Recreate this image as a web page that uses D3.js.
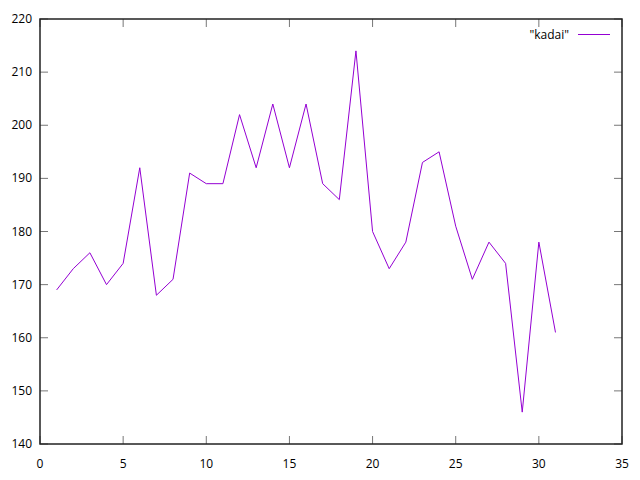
<!DOCTYPE html>
<html>
<head>
<meta charset="utf-8">
<script src="https://cdn.jsdelivr.net/npm/d3@7"></script>
<style>
  body { margin: 0; background: #fff; }
  text { font-family: "Open Sans", "Noto Sans", sans-serif; font-size: 12px; fill: #000; }
</style>
</head>
<body>
<script>
// Data.
var days = [1, 2, 3, 4, 5, 6, 7, 8, 9, 10, 11, 12, 13, 14, 15, 16, 17, 18, 19, 20, 21, 22, 23, 24, 25, 26, 27, 28, 29, 30, 31];
var kadai = [169, 173, 176, 170, 174, 192, 168, 171, 191, 189, 189, 202, 192, 204, 192, 204, 189, 186, 214, 180, 173, 178, 193, 195, 181, 171, 178, 174, 146, 178, 161];
var xTicks = [0, 5, 10, 15, 20, 25, 30, 35];
var yTicks = [140, 150, 160, 170, 180, 190, 200, 210, 220];
var seriesName = '"kadai"';

var width = 640, height = 480;
var plotLeft = 40, plotRight = 622, plotTop = 19, plotBottom = 444;

var svg = d3.select("body").append("svg")
    .attr("width", width)
    .attr("height", height);

var x = d3.scaleLinear().domain([0, 35]).range([plotLeft, plotRight]);
var y = d3.scaleLinear().domain([140, 220]).range([plotBottom, plotTop]);

// Tick marks (inward, mirrored on all sides).
var ticks = svg.append("g").attr("stroke", "#777").attr("stroke-width", 1);
xTicks.forEach(function(t) {
    ticks.append("line").attr("x1", x(t)).attr("x2", x(t)).attr("y1", plotBottom).attr("y2", plotBottom - 8);
    ticks.append("line").attr("x1", x(t)).attr("x2", x(t)).attr("y1", plotTop).attr("y2", plotTop + 8);
});
yTicks.forEach(function(t) {
    ticks.append("line").attr("x1", plotLeft).attr("x2", plotLeft + 8).attr("y1", y(t)).attr("y2", y(t));
    ticks.append("line").attr("x1", plotRight).attr("x2", plotRight - 8).attr("y1", y(t)).attr("y2", y(t));
});

// Frame.
svg.append("rect")
    .attr("x", plotLeft).attr("y", plotTop)
    .attr("width", plotRight - plotLeft).attr("height", plotBottom - plotTop)
    .attr("fill", "none").attr("stroke", "#222").attr("stroke-width", 1.5);

// Tick labels.
svg.append("g").selectAll("text").data(xTicks).enter().append("text")
    .attr("x", function(d) { return x(d); })
    .attr("y", plotBottom + 24)
    .attr("text-anchor", "middle")
    .text(function(d) { return d; });
svg.append("g").selectAll("text").data(yTicks).enter().append("text")
    .attr("x", plotLeft - 8)
    .attr("y", function(d) { return y(d) + 4; })
    .attr("text-anchor", "end")
    .text(function(d) { return d; });

// Series line.
var line = d3.line()
    .x(function(d, i) { return x(days[i]); })
    .y(function(d) { return y(d); });
svg.append("path")
    .datum(kadai)
    .attr("d", line)
    .attr("fill", "none")
    .attr("stroke", "#9400d3")
    .attr("stroke-width", 1);

// Legend.
svg.append("text")
    .attr("x", 569).attr("y", 39)
    .attr("text-anchor", "end")
    .text(seriesName);
svg.append("line")
    .attr("x1", 578).attr("x2", 610).attr("y1", 34.5).attr("y2", 34.5)
    .attr("stroke", "#9400d3").attr("stroke-width", 1);
</script>
</body>
</html>
